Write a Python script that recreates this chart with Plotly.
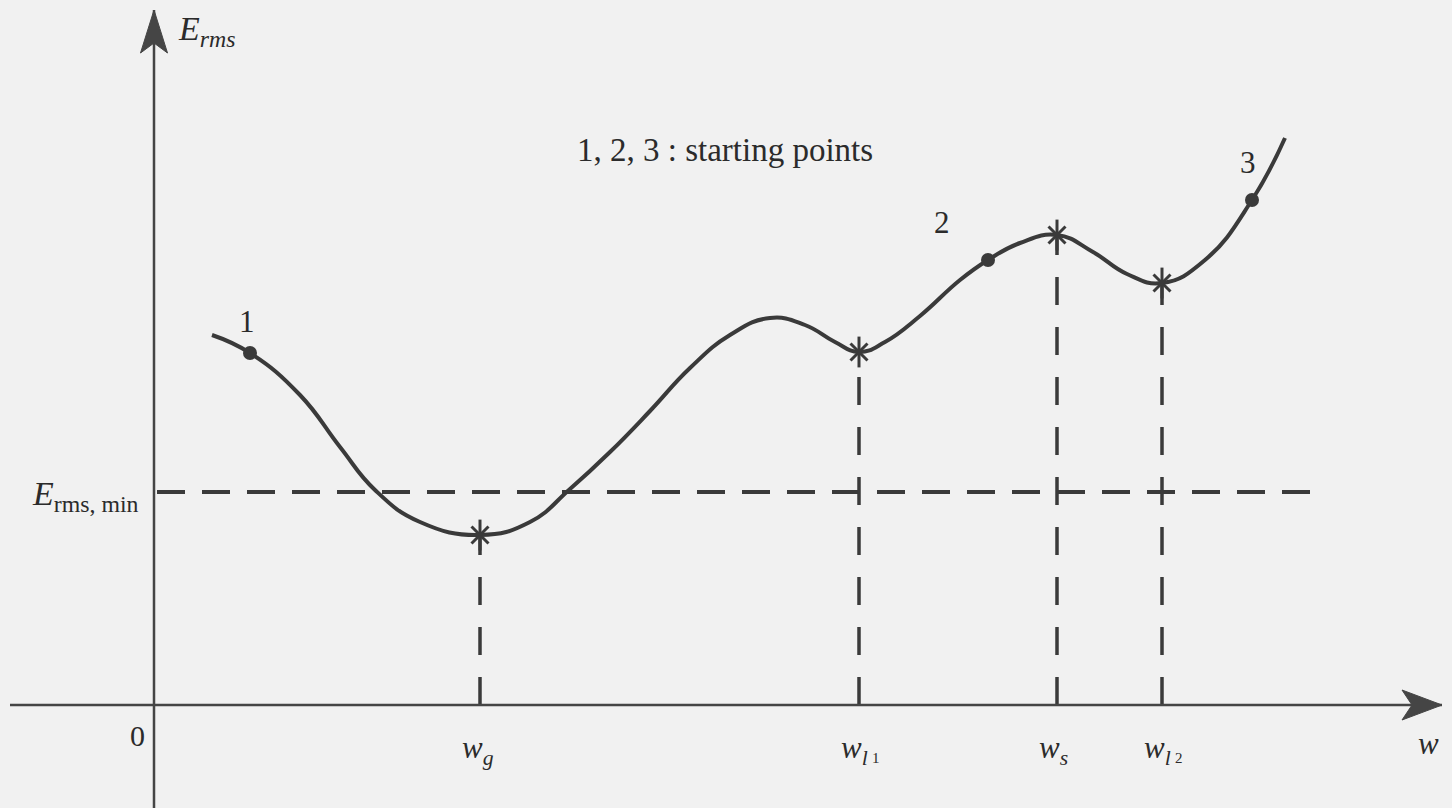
import plotly.graph_objects as go

# ---- data (units: w horizontal, E vertical) ----
curve_w = [0.58, 0.96, 1.46, 1.86, 2.21, 2.66, 3.26, 3.76, 4.16, 4.56, 4.96, 5.36, 5.76,
           6.16, 6.51, 6.81, 7.05, 7.31, 7.66, 8.06, 8.34, 8.66, 9.03, 9.39, 9.73, 10.08,
           10.51, 10.98, 11.31]
curve_E = [3.70, 3.52, 3.10, 2.58, 2.15, 1.83, 1.70, 1.83, 2.16, 2.53, 2.94, 3.37, 3.70,
           3.87, 3.80, 3.63, 3.53, 3.63, 3.89, 4.25, 4.45, 4.62, 4.70, 4.53, 4.31, 4.22,
           4.45, 5.05, 5.67]

start_labels = ["1", "2", "3"]
start_w = [0.96, 8.34, 10.98]
start_E = [3.52, 4.45, 5.05]

crit_names = ["w_g", "w_l1", "w_s", "w_l2"]
crit_w = [3.26, 7.05, 9.03, 10.08]
crit_E = [1.70, 3.53, 4.70, 4.22]

E_rms_min = 2.13
dash_w = [0.03, 11.56]

x_axis_w = [-1.44, 12.88]
y_axis_E = [-1.03, 6.95]

INK = "#3a3a3a"
AX = "#454545"
TXT = "#2b2b2b"
FONT = "Liberation Serif"

fig = go.Figure()

# horizontal dashed E_rms,min line
fig.add_trace(go.Scatter(x=dash_w, y=[E_rms_min, E_rms_min], mode="lines",
                         line=dict(color=INK, width=4, dash="28px,17px"),
                         hoverinfo="skip", showlegend=False))

# vertical dashed lines from axis up to critical points
for w, e in zip(crit_w, crit_E):
    fig.add_trace(go.Scatter(x=[w, w], y=[0, e], mode="lines",
                             line=dict(color=INK, width=3.5, dash="28px,22px"),
                             hoverinfo="skip", showlegend=False))

# axes
fig.add_trace(go.Scatter(x=x_axis_w, y=[0, 0], mode="lines",
                         line=dict(color=AX, width=2.5), hoverinfo="skip", showlegend=False))
fig.add_trace(go.Scatter(x=[0, 0], y=y_axis_E, mode="lines",
                         line=dict(color=AX, width=2.5), hoverinfo="skip", showlegend=False))

# error curve
fig.add_trace(go.Scatter(x=curve_w, y=curve_E, mode="lines",
                         line=dict(color=INK, width=4, shape="spline", smoothing=1.3),
                         hoverinfo="skip", showlegend=False))

# critical point stars (x + vertical bar)
fig.add_trace(go.Scatter(x=crit_w, y=crit_E, mode="markers",
                         marker=dict(symbol="x-thin-open", size=17, color=INK,
                                     line=dict(color=INK, width=3)),
                         hoverinfo="skip", showlegend=False))
fig.add_trace(go.Scatter(x=crit_w, y=crit_E, mode="markers",
                         marker=dict(symbol="line-ns-open", size=22, color=INK,
                                     line=dict(color=INK, width=3)),
                         hoverinfo="skip", showlegend=False))

# starting points
fig.add_trace(go.Scatter(x=start_w, y=start_E, mode="markers",
                         marker=dict(symbol="circle", size=14, color=INK),
                         hoverinfo="skip", showlegend=False))

# arrowheads
fig.add_shape(type="path", xref="x", yref="y", xsizemode="pixel", ysizemode="pixel",
              xanchor=x_axis_w[1], yanchor=0,
              path="M0,0 L-40,15 L-30,0 L-40,-15 Z", fillcolor=AX, line=dict(color=AX, width=1))
fig.add_shape(type="path", xref="x", yref="y", xsizemode="pixel", ysizemode="pixel",
              xanchor=0, yanchor=y_axis_E[1],
              path="M0,0 L-13.5,-43 L0,-33 L13.5,-43 Z", fillcolor=AX, line=dict(color=AX, width=1))

ann = []
def txt(x, y, s, size, xanchor="center", yanchor="middle"):
    ann.append(dict(x=x, y=y, xref="x", yref="y", text=s, showarrow=False,
                    xanchor=xanchor, yanchor=yanchor,
                    font=dict(family=FONT, size=size, color=TXT)))

# starting point numbers
lab_off = [(-0.03, 0.32), (-0.46, 0.38), (-0.04, 0.38)]
for s, w, e, (dx, dy) in zip(start_labels, start_w, start_E, lab_off):
    txt(w + dx, e + dy, s, 31)

txt(5.71, 5.55, "1, 2, 3 : starting points", 33)
txt(0.22, 6.74, "<i>E</i><sub><i>rms</i></sub>", 34, xanchor="left")
txt(-1.24, E_rms_min - 0.04, "<i>E</i><sub>rms, min</sub>", 34, xanchor="left")
txt(-0.17, -0.30, "0", 30)

sub_lbls = ["<i>w</i><sub><i>g</i></sub>", "<i>w</i><sub><i>l</i></sub>",
            "<i>w</i><sub><i>s</i></sub>", "<i>w</i><sub><i>l</i></sub>"]
for w, s in zip(crit_w, sub_lbls):
    txt(w - 0.20, -0.45, s, 31, xanchor="left")
txt(crit_w[1] + 0.11, -0.53, "1", 15, xanchor="left")
txt(crit_w[3] + 0.11, -0.53, "2", 15, xanchor="left")
txt(12.62, -0.38, "<i>w</i>", 31, xanchor="left")

fig.update_layout(
    width=1452, height=808,
    margin=dict(l=0, r=0, t=0, b=0),
    paper_bgcolor="#f1f1f1", plot_bgcolor="#f1f1f1",
    xaxis=dict(range=[-1.54, 12.98], visible=False, fixedrange=True),
    yaxis=dict(range=[-1.03, 7.05], visible=False, fixedrange=True),
    annotations=ann, showlegend=False,
)

fig.write_html("out.html", config={"displayModeBar": False},
               post_script="document.body.style.margin='0px';document.body.style.background='#f1f1f1';")
